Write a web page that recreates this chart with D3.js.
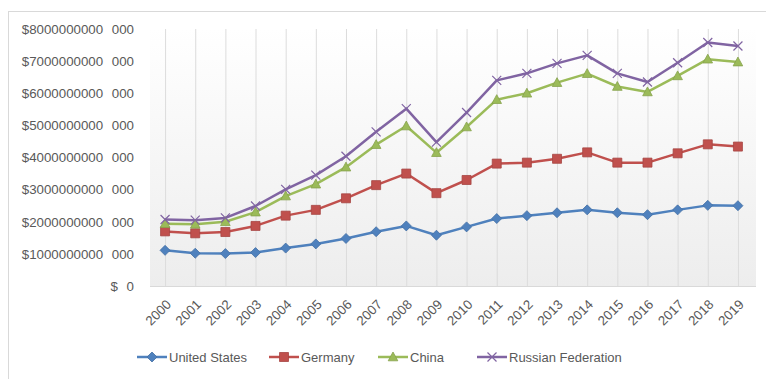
<!DOCTYPE html>
<html>
<head>
<meta charset="utf-8">
<script src="https://cdn.jsdelivr.net/npm/d3@7"></script>
<style>
  html, body { margin: 0; padding: 0; background: #ffffff; }
  svg { display: block; }
  text { font-family: "Liberation Sans", Arial, sans-serif; fill: #595959; }
</style>
</head>
<body>
<svg id="chart" width="766" height="379"></svg>
<script>
// Years on the category axis
const years = ["2000","2001","2002","2003","2004","2005","2006","2007","2008","2009",
               "2010","2011","2012","2013","2014","2015","2016","2017","2018","2019"];

// Series values, in trillions of US dollars (stacked on top of each other)
const unitedStates = [1.11,1.02,1.01,1.04,1.18,1.31,1.48,1.69,1.87,1.58,1.84,2.10,2.19,2.28,2.37,2.28,2.22,2.37,2.51,2.50];
const germany      = [0.59,0.62,0.67,0.83,1.01,1.06,1.25,1.45,1.63,1.31,1.46,1.71,1.65,1.68,1.79,1.56,1.62,1.76,1.90,1.84];
const china        = [0.24,0.28,0.32,0.43,0.61,0.80,0.97,1.26,1.48,1.26,1.65,1.99,2.16,2.37,2.45,2.37,2.20,2.41,2.65,2.63];
const russia       = [0.13,0.13,0.12,0.19,0.21,0.28,0.34,0.40,0.54,0.33,0.45,0.60,0.62,0.60,0.57,0.41,0.31,0.41,0.52,0.50];

const seriesNames  = ["United States","Germany","China","Russian Federation"];
const seriesColors = ["#4f81bd","#c0504d","#9bbb59","#8064a2"];
const seriesMarkers = ["diamond","square","triangle","cross"];

// Value-axis ticks, in dollars
const yTicks = [0,1e12,2e12,3e12,4e12,5e12,6e12,7e12,8e12];

const TRILLION = 1e12;
const keys = ["us","de","cn","ru"];
const table = years.map((y, i) => ({
  year: y,
  us: unitedStates[i] * TRILLION,
  de: germany[i] * TRILLION,
  cn: china[i] * TRILLION,
  ru: russia[i] * TRILLION
}));
const stacked = d3.stack().keys(keys)(table);

const svg = d3.select("#chart");

// Outer chart frame
svg.append("rect")
  .attr("x", 8.5).attr("y", 11.5).attr("width", 800).attr("height", 400)
  .attr("fill", "#ffffff").attr("stroke", "#d9d9d9").attr("stroke-width", 1);

const plot = { left: 150, right: 753, top: 29, bottom: 286 };

const x = d3.scalePoint().domain(years).range([plot.left, plot.right]).padding(0.5);
const y = d3.scaleLinear().domain([0, 8e12]).range([plot.bottom, plot.top]);

// Plot-area fill: soft vertical gradient
const defs = svg.append("defs");
const grad = defs.append("linearGradient").attr("id", "plotFill")
  .attr("x1", 0).attr("y1", 0).attr("x2", 0).attr("y2", 1);
grad.append("stop").attr("offset", "0%").attr("stop-color", "#ffffff");
grad.append("stop").attr("offset", "100%").attr("stop-color", "#ededed");

svg.append("rect")
  .attr("x", plot.left).attr("y", plot.top)
  .attr("width", 756 - plot.left).attr("height", plot.bottom - plot.top)
  .attr("fill", "url(#plotFill)");

// Vertical gridlines at each year
svg.append("g").selectAll("line").data(years).join("line")
  .attr("x1", d => x(d) + 0.5).attr("x2", d => x(d) + 0.5)
  .attr("y1", plot.top).attr("y2", plot.bottom)
  .attr("stroke", "#dcdcdc").attr("stroke-width", 1);

// Category axis line
svg.append("line")
  .attr("x1", plot.left).attr("x2", 756)
  .attr("y1", plot.bottom + 0.5).attr("y2", plot.bottom + 0.5)
  .attr("stroke", "#d9d9d9");

// Value axis labels
const fmtDollar = v => {
  if (v === 0) return "$ 0";
  const s = String(v);
  return "$" + s.slice(0, -3) + " " + s.slice(-3);
};
const yAxis = d3.axisLeft(y).tickValues(yTicks).tickSize(0).tickPadding(0).tickFormat(fmtDollar);
const yg = svg.append("g").attr("transform", "translate(134,0)").call(yAxis);
yg.select(".domain").remove();
yg.selectAll("text")
  .attr("fill", "#595959")
  .style("font-size", "13.3px")
  .style("word-spacing", "5px")
  .style("white-space", "pre")
  .style("font-family", "'Liberation Sans', Arial, sans-serif");

// Category axis labels, rotated
const xAxis = d3.axisBottom(x).tickSize(0).tickPadding(0);
const xg = svg.append("g").attr("transform", `translate(0,${plot.bottom})`).call(xAxis);
xg.select(".domain").remove();
xg.selectAll("text")
  .attr("fill", "#404040")
  .style("font-size", "13.3px")
  .style("font-family", "'Liberation Sans', Arial, sans-serif")
  .attr("text-anchor", "end")
  .attr("dy", "0.35em")
  .attr("transform", "translate(3,16) rotate(-45)");

// Marker shapes
function markerPath(kind) {
  switch (kind) {
    case "diamond": return "M0,-5L5,0L0,5L-5,0Z";
    case "square": return "M-4.5,-4.5H4.5V4.5H-4.5Z";
    case "triangle": return "M0,-5L4.8,3.8H-4.8Z";
    case "cross": return "M-4.5,-4.5L4.5,4.5M4.5,-4.5L-4.5,4.5";
  }
}
function drawMarker(g, kind, color) {
  if (kind === "cross") {
    g.append("path").attr("d", markerPath(kind))
      .attr("fill", "none").attr("stroke", color).attr("stroke-width", 1.2);
  } else {
    g.append("path").attr("d", markerPath(kind))
      .attr("fill", color)
      .attr("stroke", d3.color(color).darker(0.4)).attr("stroke-width", 0.8);
  }
}

// Lines and markers for each stacked series
const line = d3.line().x(d => x(d.data.year)).y(d => y(d[1]));
stacked.forEach((s, i) => {
  svg.append("path").datum(s)
    .attr("fill", "none")
    .attr("stroke", seriesColors[i])
    .attr("stroke-width", 2.5)
    .attr("stroke-linejoin", "round")
    .attr("d", line);
});
stacked.forEach((s, i) => {
  const mg = svg.append("g");
  s.forEach(d => {
    const g = mg.append("g").attr("transform", `translate(${x(d.data.year)},${y(d[1])})`);
    drawMarker(g, seriesMarkers[i], seriesColors[i]);
  });
});

// Legend
const legendX = [137, 269, 378, 477];
const legendY = 357;
const lg = svg.append("g");
seriesNames.forEach((name, i) => {
  const g = lg.append("g").attr("transform", `translate(${legendX[i]},${legendY})`);
  g.append("line").attr("x1", 0).attr("x2", 30).attr("y1", 0).attr("y2", 0)
    .attr("stroke", seriesColors[i]).attr("stroke-width", 2.5);
  const m = g.append("g").attr("transform", "translate(15,0)");
  drawMarker(m, seriesMarkers[i], seriesColors[i]);
  g.append("text").attr("x", 32).attr("y", 0).attr("dy", "0.35em")
    .attr("fill", "#404040")
    .style("font-size", "13px")
    .style("font-family", "'Liberation Sans', Arial, sans-serif")
    .text(name);
});
</script>
</body>
</html>
